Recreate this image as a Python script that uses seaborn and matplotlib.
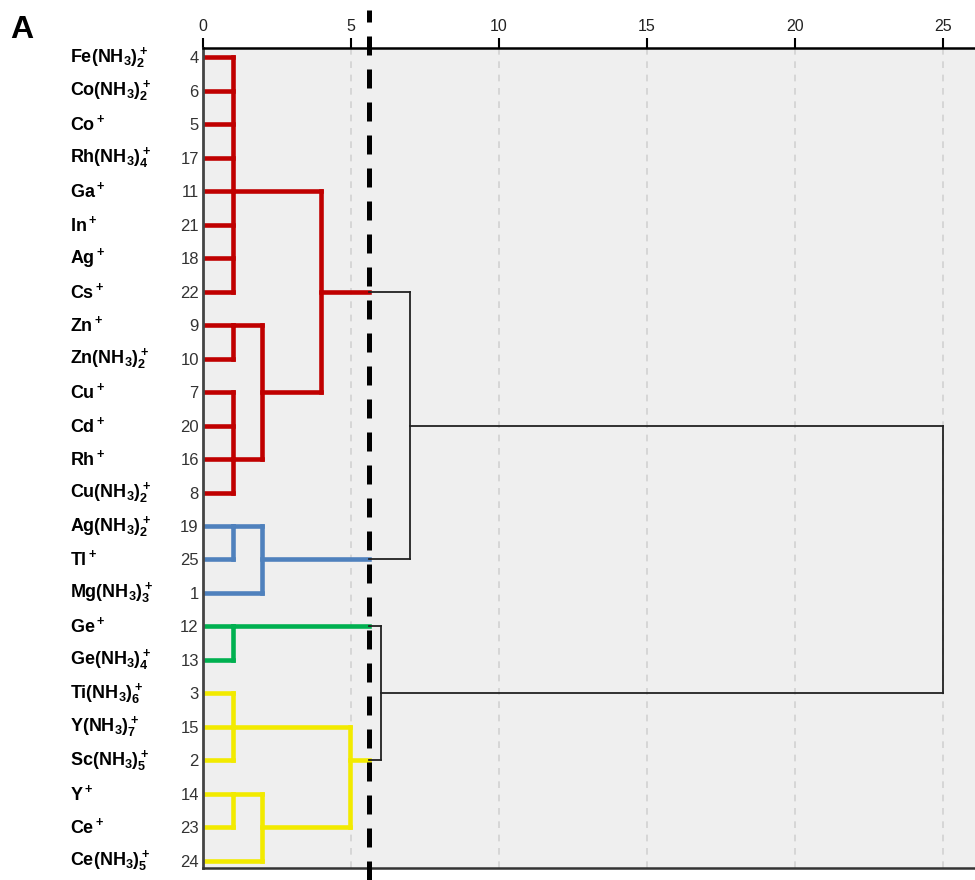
import pandas as pd
import seaborn as sns
import matplotlib.pyplot as plt
from matplotlib import transforms

sns.set_theme(style="white")
plt.rcParams["font.family"] = ["Liberation Sans", "DejaVu Sans"]
plt.rcParams["mathtext.fontset"] = "custom"
plt.rcParams["mathtext.rm"] = "Liberation Sans:bold"
plt.rcParams["mathtext.it"] = "Liberation Sans:bold"
plt.rcParams["mathtext.bf"] = "Liberation Sans:bold"
plt.rcParams["mathtext.default"] = "bf"

# leaves, top to bottom
labels = [r"$\mathbf{Fe(NH_3)_2^+}$", r"$\mathbf{Co(NH_3)_2^+}$", r"$\mathbf{Co^+}$",
          r"$\mathbf{Rh(NH_3)_4^+}$", r"$\mathbf{Ga^+}$", r"$\mathbf{In^+}$", r"$\mathbf{Ag^+}$",
          r"$\mathbf{Cs^+}$", r"$\mathbf{Zn^+}$", r"$\mathbf{Zn(NH_3)_2^+}$", r"$\mathbf{Cu^+}$",
          r"$\mathbf{Cd^+}$", r"$\mathbf{Rh^+}$", r"$\mathbf{Cu(NH_3)_2^+}$",
          r"$\mathbf{Ag(NH_3)_2^+}$", r"$\mathbf{Tl^+}$", r"$\mathbf{Mg(NH_3)_3^+}$",
          r"$\mathbf{Ge^+}$", r"$\mathbf{Ge(NH_3)_4^+}$", r"$\mathbf{Ti(NH_3)_6^+}$",
          r"$\mathbf{Y(NH_3)_7^+}$", r"$\mathbf{Sc(NH_3)_5^+}$", r"$\mathbf{Y^+}$",
          r"$\mathbf{Ce^+}$", r"$\mathbf{Ce(NH_3)_5^+}$"]
case_ids = [4, 6, 5, 17, 11, 21, 18, 22, 9, 10, 7, 20, 16, 8, 19, 25, 1, 12, 13, 3, 15, 2, 14, 23, 24]
n_leaves = len(labels)

# merges: children are leaf rows (0..24) or earlier merges (25 + index)
merge_children = [
    [0, 1, 2, 3, 4, 5, 6, 7],   # 25
    [8, 9],                     # 26
    [10, 11, 12, 13],           # 27
    [26, 27],                   # 28
    [25, 28],                   # 29
    [14, 15],                   # 30
    [30, 16],                   # 31
    [29, 31],                   # 32
    [17, 18],                   # 33
    [19, 20, 21],               # 34
    [22, 23],                   # 35
    [35, 24],                   # 36
    [34, 36],                   # 37
    [33, 37],                   # 38
    [32, 38],                   # 39
]
merge_heights = [1.0, 1.0, 1.0, 2.0, 4.0, 1.0, 2.0, 7.0, 1.0, 1.0, 1.0, 2.0, 4.95, 6.0, 25.0]
merge_rows = [4, 8, 12, 10, 7, 14, 15, 11, 17, 20, 22, 23, 21, 19, 15]
merge_cluster = ["I"] * 5 + ["II"] * 2 + ["link"] + ["III"] + ["IV"] * 4 + ["link"] * 2
cut_distance = 5.6

palette = {"I": "#c00000", "II": "#4f81bd", "III": "#00b050", "IV": "#f2ea00", "link": "#222222"}

# build line segments of the dendrogram
row_of = {i: i for i in range(n_leaves)}
height_of = {i: 0.0 for i in range(n_leaves)}
cluster_of = {}
segs = []


def add_seg(x0, x1, y0, y1, cl):
    k = len(segs) // 2
    segs.append({"seg": k, "x": x0, "y": y0, "cluster": cl})
    segs.append({"seg": k, "x": x1, "y": y1, "cluster": cl})


for n, children in enumerate(merge_children):
    node = n_leaves + n
    h = merge_heights[n]
    cl = merge_cluster[n]
    row_of[node] = merge_rows[n]
    height_of[node] = h
    cluster_of[node] = cl
    rows = [row_of[c] for c in children]
    add_seg(h, h, min(rows), max(rows), cl)
    for c in children:
        cc = cluster_of.get(c, cl)
        x0, y = height_of[c], row_of[c]
        if cl == "link" and cc != "link":
            add_seg(x0, cut_distance, y, y, cc)
            add_seg(cut_distance, h, y, y, "link")
        else:
            add_seg(x0, h, y, y, cl)

df = pd.DataFrame(segs)

fig = plt.figure(figsize=(9.75, 8.8), dpi=100)
ax = fig.add_axes([0.2082, 0.01364, 0.7918, 0.9318])
ax.set_facecolor("#efefef")

colored = df[df["cluster"] != "link"]
links = df[df["cluster"] == "link"]
sns.lineplot(data=colored, x="x", y="y", units="seg", estimator=None, sort=False,
             hue="cluster", palette=palette, linewidth=3.3, legend=False, ax=ax,
             solid_capstyle="projecting")
sns.lineplot(data=links, x="x", y="y", units="seg", estimator=None, sort=False,
             color=palette["link"], linewidth=1.3, legend=False, ax=ax,
             solid_capstyle="projecting")

ax.axvline(cut_distance, ymin=-0.015, ymax=1.046, color="black", linewidth=3.6,
           linestyle=(0, (3.8, 2.8)), clip_on=False, zorder=5)

ax.set_xlim(0, 26.08)
ax.set_ylim(24.21, -0.27)
ax.set_xticks([0, 5, 10, 15, 20, 25])
ax.xaxis.tick_top()
ax.set_yticks(range(n_leaves))
ax.set_yticklabels(case_ids)
ax.set_xlabel("")
ax.set_ylabel("")
ax.tick_params(axis="x", top=True, bottom=False, length=7, width=1.5, color="black",
               labelsize=11.5, labelcolor="#222222", pad=3)
ax.tick_params(axis="y", left=False, length=0, labelsize=12, labelcolor="#333333", pad=3)

ax.grid(axis="x", linestyle=(0, (4, 4)), color="#d2d2d2", linewidth=1.2)
ax.grid(axis="y", visible=False)
ax.set_axisbelow(True)

ax.spines["right"].set_visible(False)
ax.spines["top"].set_color("black")
ax.spines["top"].set_linewidth(1.8)
ax.spines["left"].set_color("#444444")
ax.spines["left"].set_linewidth(2)
ax.spines["bottom"].set_color("#333333")
ax.spines["bottom"].set_linewidth(1.8)

trans = transforms.blended_transform_factory(ax.transAxes, ax.transData)
for i, lab in enumerate(labels):
    ax.text(-0.172, i, lab, transform=trans, ha="left", va="center",
            fontsize=13, color="black")

fig.text(10 / 975, 1 - 38 / 880, "A", fontsize=23, fontweight="bold", color="black",
         va="baseline")

fig.savefig("out.png", dpi=100)
